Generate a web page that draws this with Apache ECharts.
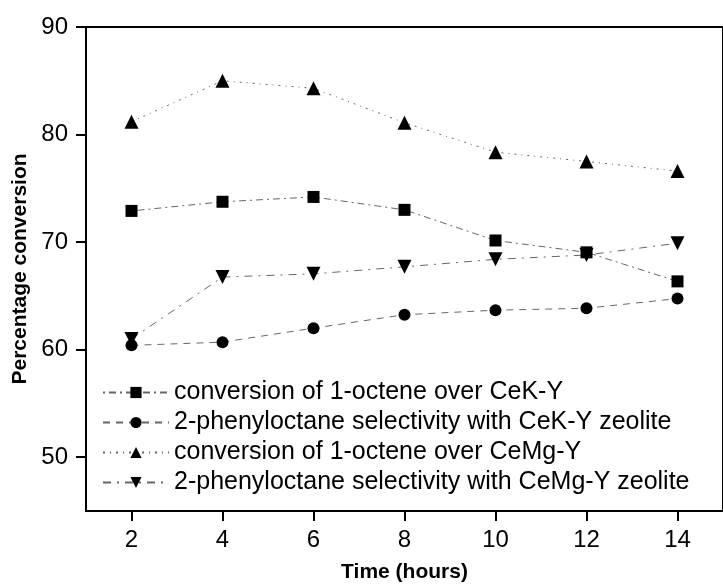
<!DOCTYPE html>
<html>
<head>
<meta charset="utf-8">
<script src="https://cdn.jsdelivr.net/npm/echarts@6/dist/echarts.min.js"></script>
<style>html,body{margin:0;padding:0;background:#fff}#c{width:723px;height:588px}</style>
</head>
<body>
<div id="c"></div>
<script>
var times = [2, 4, 6, 8, 10, 12, 14];
var convCeK = [72.9, 73.75, 74.2, 73.0, 70.15, 69.05, 66.35];
var selCeK = [60.4, 60.7, 62.0, 63.25, 63.67, 63.85, 64.75];
var convCeMg = [81.2, 85.0, 84.3, 81.1, 78.36, 77.5, 76.6];
var selCeMg = [61.0, 66.75, 67.05, 67.7, 68.4, 68.8, 69.9];
var yTicks = [50, 60, 70, 80, 90];
var xTicks = [2, 4, 6, 8, 10, 12, 14];
var names = [
  'conversion of 1-octene over CeK-Y',
  '2-phenyloctane selectivity with CeK-Y zeolite',
  'conversion of 1-octene over CeMg-Y',
  '2-phenyloctane selectivity with CeMg-Y zeolite'
];

function pairs(ys){ return times.map(function(t,i){ return [t, ys[i]]; }); }
function mk(name, ys, symbol, size, rot, dash){
  return {
    name: name, type:'line', data: pairs(ys),
    symbol: symbol, symbolSize: size, symbolRotate: rot,
    itemStyle:{color:'#000'},
    lineStyle:{color:'#666', width:1, type:dash},
    showSymbol:true, z: 3, animation:false
  };
}
var chart = echarts.init(document.getElementById('c'), null, {renderer:'canvas'});
chart.setOption({
  animation:false,
  grid:{left:86, top:27, width:643, height:489, show:true, borderColor:'#000', borderWidth:2, backgroundColor:'transparent'},
  legend:{
    orient:'vertical', left:97, top:375, itemWidth:66, itemHeight:14, itemGap:5,
    textStyle:{fontFamily:'Liberation Sans, Arial', fontSize:25, color:'#000', lineHeight:25},
    data: names
  },
  xAxis:{
    type:'value', min:1, max:15,
    axisLine:{show:true, lineStyle:{color:'#000', width:2}},
    axisTick:{show:true, inside:false, length:10, lineStyle:{color:'#000', width:2}, customValues:xTicks},
    axisLabel:{customValues:xTicks, margin:17, fontFamily:'Liberation Sans, Arial', fontSize:24, color:'#000'},
    splitLine:{show:false},
    name:'Time (hours)', nameLocation:'middle', nameGap:51,
    nameTextStyle:{fontFamily:'Liberation Sans, Arial', fontSize:21, fontWeight:'bold', color:'#000'}
  },
  yAxis:{
    type:'value', min:45, max:90,
    axisLine:{show:true, lineStyle:{color:'#000', width:2}},
    axisTick:{show:true, inside:false, length:10, lineStyle:{color:'#000', width:2}, customValues:yTicks},
    axisLabel:{customValues:yTicks, margin:18, fontFamily:'Liberation Sans, Arial', fontSize:24, color:'#000'},
    splitLine:{show:false},
    name:'Percentage conversion', nameLocation:'middle', nameGap:52,
    nameTextStyle:{fontFamily:'Liberation Sans, Arial', fontSize:21, fontWeight:'bold', color:'#000'}
  },
  series:[
    mk(names[0], convCeK, 'rect', 12, 0, [2,4,7,4]),
    mk(names[1], selCeK, 'circle', 12, 0, [7,6]),
    mk(names[2], convCeMg, 'triangle', 14, 0, [2,5,1,5]),
    mk(names[3], selCeMg, 'triangle', 14, 180, [8,6,2,6])
  ]
});
</script>
</body>
</html>
